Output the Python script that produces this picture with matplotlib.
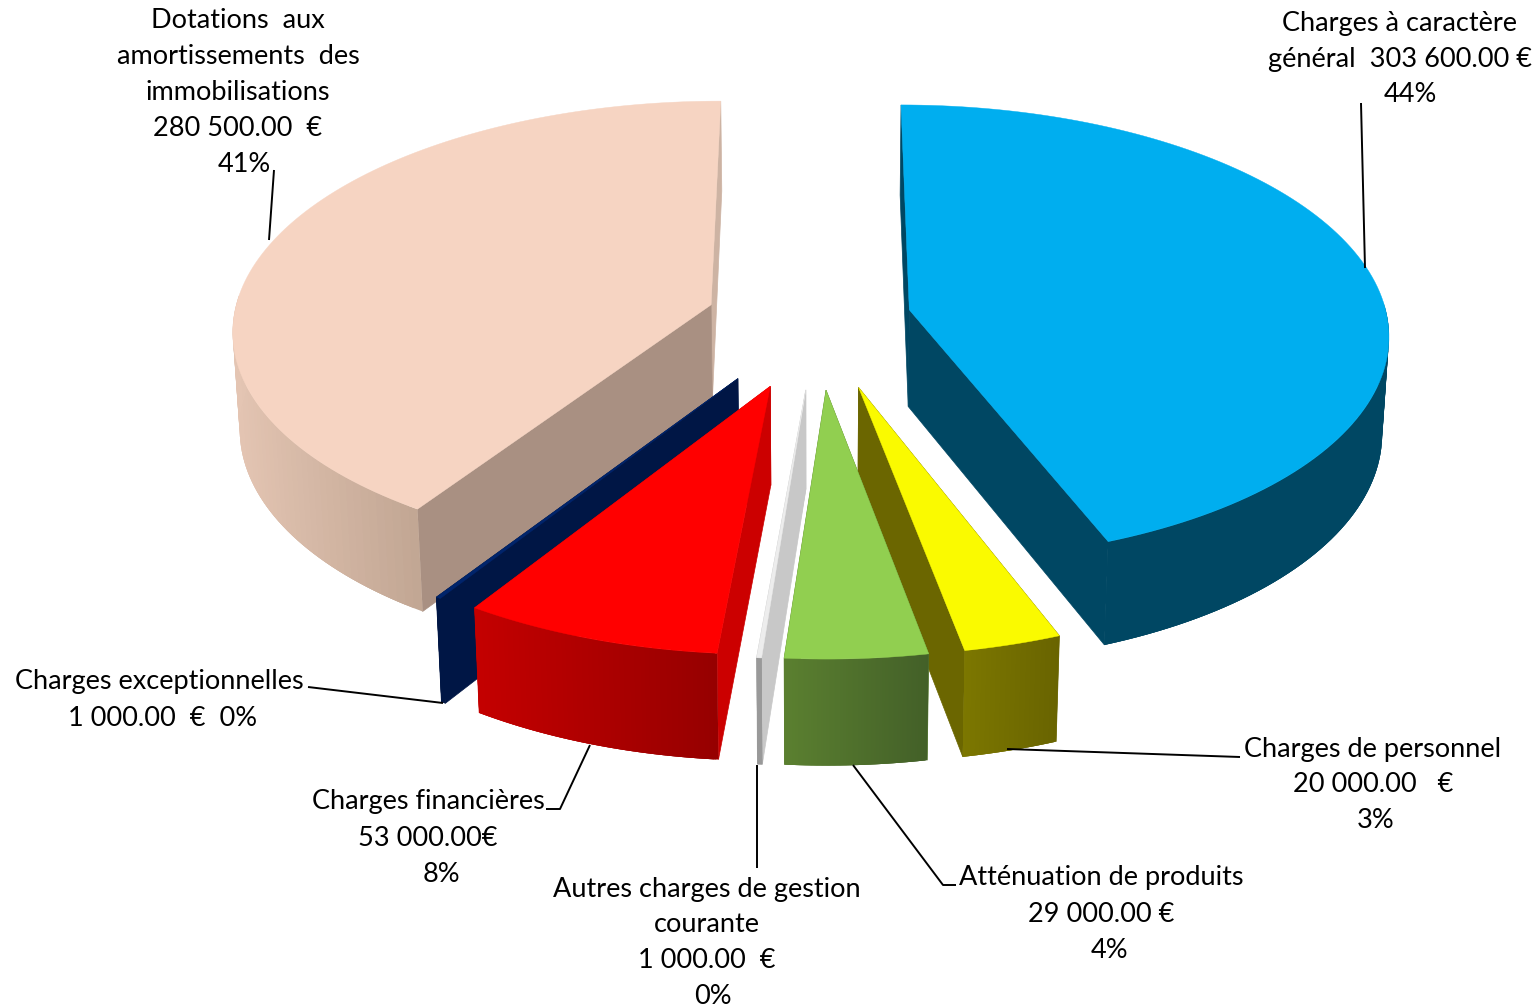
import numpy as np
import matplotlib
matplotlib.use("Agg")
import matplotlib.pyplot as plt
from matplotlib.colors import to_rgb

plt.rcParams['font.family'] = ['Lato', 'DejaVu Sans']

# clockwise from the top of the pie
categories = ["Charges à caractère général", "Charges de personnel", "Atténuation de produits",
              "Autres charges de gestion courante", "Charges financières",
              "Charges exceptionnelles", "Dotations aux amortissements des immobilisations"]
amounts = [303600, 20000, 29000, 1000, 53000, 1000, 280500]
label_lines = [
    ["Charges à caractère", "général  303 600.00 €", "44%"],
    ["Charges de personnel", "20 000.00   €", "3%"],
    ["Atténuation de produits", "29 000.00 €", "4%"],
    ["Autres charges de gestion", "courante", "1 000.00  €", "0%"],
    ["Charges financières", "53 000.00€", "8%"],
    ["Charges exceptionnelles", "1 000.00  €  0%"],
    ["Dotations  aux", "amortissements  des", "immobilisations", "280 500.00  €", "41%"],
]

# pie geometry, in pixels of the 1538x1008 picture
CX, CY = 818, 320
RX, RY = 478, 227
DEPTH = 98
PERSP = 0.10
DEPTH_PERSP = 0.012
explode = [0.195, 0.3, 0.3, 0.3, 0.3, 0.3, 0.235]
lift = [-2, 0, 0, 0, 0, 0, 0]

top_colors = ["#00AEEF", "#FAFA00", "#91CF50", "#EDEDED", "#FF0000", "#00246B", "#F6D4C2"]
cut_colors = ["#004763", "#6B6600", "#5B8030", "#C8C8C8", "#CC0000", "#001645", "#A99082"]
end_colors = ["#004763", "#6B6600", "#5B8030", "#C8C8C8", "#CC0000", "#001645", "#CDB3A3"]
wall_left = ["#004763", "#7C7700", "#5B8030", "#999999", "#C40000", "#001645", "#E4C5B3"]
wall_right = ["#004763", "#696400", "#436028", "#999999", "#960000", "#001645", "#C2A794"]

# label centres, one row per line of text
label_x = [[1400, 1400, 1410], [1373, 1373, 1376], [1101, 1101, 1110], [707, 707, 707, 713],
           [428, 428, 441], [159, 163], [238, 238, 238, 238, 244]]
label_y = [[23, 59, 95], [750, 785, 821], [878, 914, 950], [890, 925, 961, 997],
           [802, 838, 874], [682, 718], [21, 56, 92, 128, 164]]
leaders = [
    [(1361, 103), (1365, 268)],
    [(1240, 757), (1007, 749)],
    [(956, 885), (943, 885), (853, 765)],
    [(757, 868), (757, 765)],
    [(546, 809), (560, 809), (590, 745)],
    [(308, 687), (443, 703)],
    [(274, 170), (269, 240)],
]


def project(u, v, z, dy):
    s = 1.0 / (1.0 - PERSP * v + DEPTH_PERSP * z)
    return CX + RX * u * s, CY + dy + (RY * v + DEPTH * z) * s


def blend(c1, c2, t):
    a, b = np.array(to_rgb(c1)), np.array(to_rgb(c2))
    return tuple(a + (b - a) * t)


fig = plt.figure(figsize=(15.38, 10.08), dpi=100)
ax = fig.add_axes([0, 0, 1, 1])
ax.set_xlim(0, 1538)
ax.set_ylim(1008, 0)
ax.axis('off')

amounts = np.array(amounts, dtype=float)
edges = np.concatenate([[0], np.cumsum(amounts)]) / amounts.sum() * 2 * np.pi
mids = (edges[:-1] + edges[1:]) / 2

# back slices first, the front ones paint over them
order = sorted(range(len(amounts)), key=lambda k: -np.cos(mids[k]))

for i in order:
    t = np.linspace(edges[i], edges[i + 1], 120)
    ou = explode[i] * np.sin(mids[i])
    ov = -explode[i] * np.cos(mids[i])
    u = ou + np.sin(t)
    v = ov - np.cos(t)

    # the two straight cuts, the one further back first
    cuts = [(t[0], cut_colors[i]), (t[-1], end_colors[i])]
    if i == 6:
        cuts = cuts[::-1]
    for a, col in cuts:
        eu, ev = ou + np.sin(a), ov - np.cos(a)
        p0 = project(ou, ov, 0, lift[i])
        p1 = project(eu, ev, 0, lift[i])
        p2 = project(eu, ev, 1, lift[i])
        p3 = project(ou, ov, 1, lift[i])
        ax.fill([p0[0], p1[0], p2[0], p3[0]], [p0[1], p1[1], p2[1], p3[1]],
                color=col, lw=0.5, zorder=1)

    # outer wall as overlapping strips so it can carry a gradient without seams
    xt, yt = project(u, v, 0, lift[i])
    xb, yb = project(u, v, 1, lift[i])
    front = -np.cos(t) > -0.05
    if front.any():
        xmin, xmax = xt[front].min(), xt[front].max()
        idx = np.where(front)[0]
        for k in idx[:-1]:
            f = (xt[k] - xmin) / max(xmax - xmin, 1)
            col = blend(wall_left[i], wall_right[i], f)
            e = min(k + 3, idx[-1])
            ax.fill(np.r_[xt[k:e + 1], xb[k:e + 1][::-1]], np.r_[yt[k:e + 1], yb[k:e + 1][::-1]],
                    color=col, lw=0, zorder=1)

    # top face
    ax_, ay_ = project(ou, ov, 0, lift[i])
    ax.fill(np.r_[ax_, xt], np.r_[ay_, yt], color=top_colors[i], lw=0.3, zorder=1)

for pts in leaders:
    xs, ys = zip(*pts)
    ax.plot(xs, ys, color='black', lw=1.4, zorder=2, solid_capstyle='butt')

for lines, xs, ys in zip(label_lines, label_x, label_y):
    for line, x, y in zip(lines, xs, ys):
        ax.text(x, y, line, ha='center', va='center', fontsize=19.5, color='black', zorder=3)

fig.savefig("out.png", dpi=100, facecolor='white')
